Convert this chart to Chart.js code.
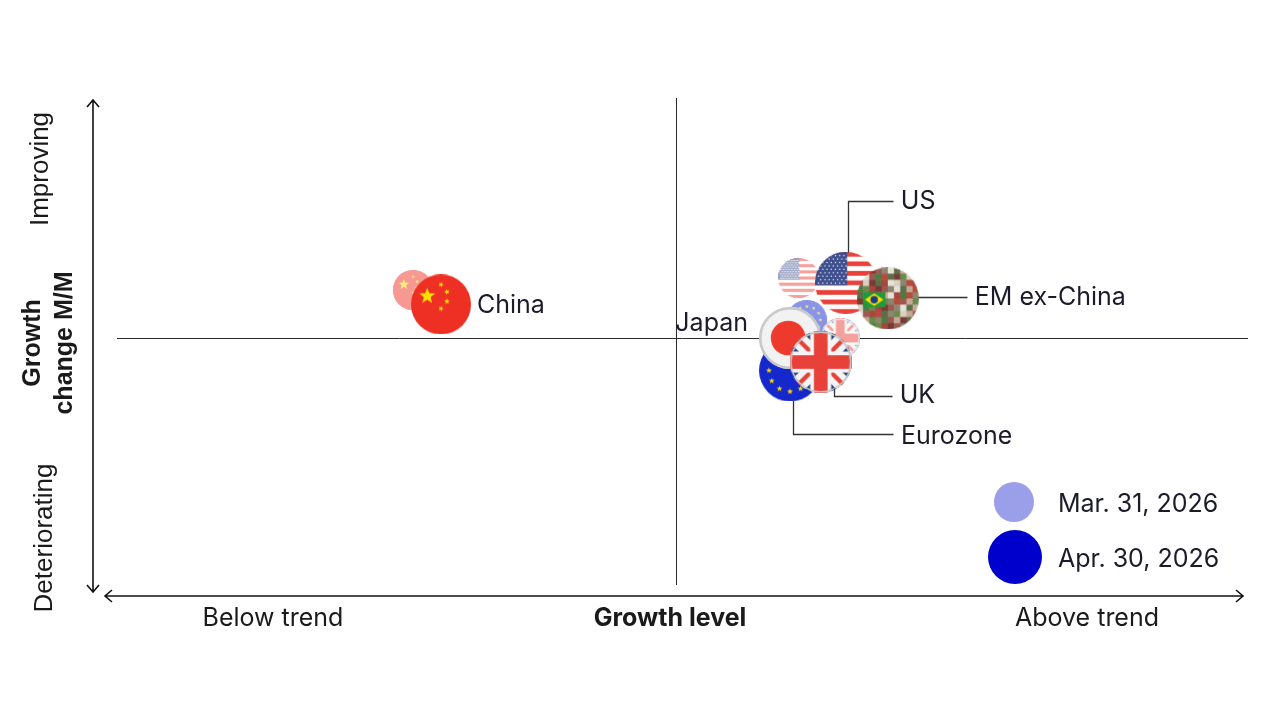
<!DOCTYPE html>
<html>
<head>
<meta charset="utf-8">
<script src="https://cdn.jsdelivr.net/npm/chart.js@4.4.0/dist/chart.umd.min.js"></script>
<style>
  html, body { margin: 0; background: #fff; }
  #wrap { width: 1280px; height: 720px; }
</style>
</head>
<body>
<div id="wrap"><canvas id="myChart"></canvas></div>
<script>
// draw order matters: later regions sit on top
const regions = ["China", "Eurozone", "Japan", "UK", "US", "EM ex-China"];
const levelMar = [-4.7, 2.35, 2.0, 2.95, 2.2, 3.75];
const changeMar = [2.0, 0.75, 0.05, 0.0, 2.5, 1.6];
const levelApr = [-4.2, 2.05, 2.05, 2.6, 3.05, 3.8];
const changeApr = [1.4, -1.35, 0.0, -1.0, 2.3, 1.65];
const dateLabels = ["Mar. 31, 2026", "Apr. 30, 2026"];

const FONT = "Inter, 'Noto Sans', sans-serif";

function star(ctx, cx, cy, r, rot) {
  ctx.beginPath();
  for (let i = 0; i < 10; i++) {
    const a = -Math.PI / 2 + (rot || 0) + i * Math.PI / 5;
    const rr = i % 2 === 0 ? r : r * 0.42;
    ctx.lineTo(cx + rr * Math.cos(a), cy + rr * Math.sin(a));
  }
  ctx.closePath();
  ctx.fill();
}

const flags = {
  "China": (ctx, s) => {
    ctx.fillStyle = "#ee3024";
    ctx.fillRect(0, 0, s, s);
    ctx.fillStyle = "#ffde00";
    star(ctx, s * 0.27, s * 0.36, s * 0.14);
    star(ctx, s * 0.50, s * 0.17, s * 0.05, 0.4);
    star(ctx, s * 0.60, s * 0.29, s * 0.05, 0.9);
    star(ctx, s * 0.60, s * 0.45, s * 0.05, 0);
    star(ctx, s * 0.50, s * 0.57, s * 0.05, 0.4);
  },
  "US": (ctx, s) => {
    const h = s / 13;
    for (let i = 0; i < 13; i++) {
      ctx.fillStyle = i % 2 === 0 ? "#e8413a" : "#ffffff";
      ctx.fillRect(0, i * h, s, h + 0.5);
    }
    ctx.fillStyle = "#3e4f8f";
    ctx.fillRect(0, 0, s * 0.52, h * 7);
    ctx.fillStyle = "#ffffff";
    for (let r = 0; r < 9; r++) {
      for (let c = 0; c < 7; c++) {
        const x = s * 0.05 + c * s * 0.068 + (r % 2 ? s * 0.034 : 0);
        const y = s * 0.05 + r * h * 0.72;
        ctx.fillRect(x, y, 1.2, 1.2);
      }
    }
  },
  "EM ex-China": (ctx, s) => {
    const cols = ["#6a8a4a", "#b84a3c", "#e6e2d6", "#7a3a34", "#4f7a44", "#c9a89a", "#8a8670", "#a8463e", "#d8d0c0", "#5d6f4a", "#9a5a50"];
    const n = 10, c = s / n;
    for (let i = 0; i < n; i++) {
      for (let j = 0; j < n; j++) {
        ctx.fillStyle = cols[(i * 7 + j * 5 + (i * j) % 3) % cols.length];
        ctx.fillRect(i * c, j * c, c + 0.5, c + 0.5);
      }
    }
    // Brazil inset
    ctx.fillStyle = "#1f9a3a";
    ctx.fillRect(s * 0.10, s * 0.40, s * 0.36, s * 0.24);
    ctx.fillStyle = "#fedf00";
    ctx.beginPath();
    ctx.moveTo(s * 0.13, s * 0.52); ctx.lineTo(s * 0.28, s * 0.42);
    ctx.lineTo(s * 0.43, s * 0.52); ctx.lineTo(s * 0.28, s * 0.62);
    ctx.fill();
    ctx.fillStyle = "#1b3f8f";
    ctx.beginPath(); ctx.arc(s * 0.28, s * 0.52, s * 0.06, 0, Math.PI * 2); ctx.fill();
  },
  "Eurozone": (ctx, s) => {
    ctx.fillStyle = "#1428cc";
    ctx.fillRect(0, 0, s, s);
    ctx.fillStyle = "#ffd800";
    for (let i = 0; i < 12; i++) {
      const a = i * Math.PI / 6;
      star(ctx, s / 2 + s * 0.34 * Math.cos(a), s / 2 + s * 0.34 * Math.sin(a), s * 0.05);
    }
  },
  "Japan": (ctx, s) => {
    ctx.fillStyle = "#f2f2f2";
    ctx.fillRect(0, 0, s, s);
    ctx.fillStyle = "#ee3a2c";
    ctx.beginPath(); ctx.arc(s * 0.47, s * 0.5, s * 0.28, 0, Math.PI * 2); ctx.fill();
  },
  "UK": (ctx, s) => {
    ctx.fillStyle = "#2a3f80";
    ctx.fillRect(0, 0, s, s);
    ctx.lineCap = "butt";
    ctx.strokeStyle = "#f4f4f4";
    ctx.lineWidth = s * 0.26;
    ctx.beginPath(); ctx.moveTo(0, 0); ctx.lineTo(s, s); ctx.moveTo(s, 0); ctx.lineTo(0, s); ctx.stroke();
    ctx.strokeStyle = "#e8413a";
    ctx.lineWidth = s * 0.07;
    ctx.beginPath(); ctx.moveTo(0, 0); ctx.lineTo(s, s); ctx.moveTo(s, 0); ctx.lineTo(0, s); ctx.stroke();
    ctx.fillStyle = "#f4f4f4";
    ctx.fillRect(s * 0.33, 0, s * 0.34, s);
    ctx.fillRect(0, s * 0.33, s, s * 0.34);
    ctx.fillStyle = "#e8413a";
    ctx.fillRect(s * 0.39, 0, s * 0.22, s);
    ctx.fillRect(0, s * 0.39, s, s * 0.22);
  }
};

function flagIcon(name, r, faded) {
  const s = r * 2;
  const cv = document.createElement("canvas");
  cv.width = s; cv.height = s;
  const ctx = cv.getContext("2d");
  ctx.save();
  ctx.beginPath(); ctx.arc(r, r, r, 0, Math.PI * 2); ctx.clip();
  flags[name](ctx, s);
  if (faded) {
    ctx.fillStyle = "rgba(255,255,255,0.5)";
    ctx.fillRect(0, 0, s, s);
  }
  ctx.restore();
  if (name === "Japan" || name === "UK") {
    ctx.strokeStyle = faded ? "#e4e4e4" : "#c8c8c8";
    ctx.lineWidth = name === "Japan" ? 2.5 : 1.5;
    ctx.beginPath(); ctx.arc(r, r, r - 1.2, 0, Math.PI * 2); ctx.stroke();
  }
  return cv;
}

const ptsMar = regions.map((n, i) => ({ x: levelMar[i], y: changeMar[i] }));
const ptsApr = regions.map((n, i) => ({ x: levelApr[i], y: changeApr[i] }));
const iconsMar = regions.map(n => flagIcon(n, 20, true));
const iconsApr = regions.map(n => flagIcon(n, n === "China" ? 30 : 31, false));

// leader lines & labels, offsets from the Apr point in pixels
const callouts = {
  "China": { path: [], tx: 36, ty: 1, align: "left" },
  "US": { path: [[2, -31], [2, -82], [47, -82]], tx: 55, ty: -81, align: "left" },
  "EM ex-China": { path: [[30, -1], [79, -1]], tx: 87, ty: -1, align: "left" },
  "UK": { path: [[13, 26], [13, 34], [71, 34]], tx: 79, ty: 33, align: "left" },
  "Eurozone": { path: [[3, 30], [3, 64], [103, 64]], tx: 111, ty: 66, align: "left" },
  "Japan": { path: [], tx: -42, ty: -15, align: "right" }
};

const quadrantPlugin = {
  id: "quadrant",
  beforeDatasetsDraw(chart) {
    const { ctx, chartArea: a, scales: { x, y } } = chart;
    const x0 = x.getPixelForValue(0), y0 = y.getPixelForValue(0);
    ctx.save();
    ctx.strokeStyle = "#2b2b2b";
    ctx.lineWidth = 1;
    ctx.beginPath();
    ctx.moveTo(Math.round(x0) + 0.5, a.top);
    ctx.lineTo(Math.round(x0) + 0.5, a.bottom);
    ctx.moveTo(a.left, Math.round(y0) + 0.5);
    ctx.lineTo(a.right, Math.round(y0) + 0.5);
    ctx.stroke();

    // outer double arrows
    ctx.strokeStyle = "#111";
    ctx.lineWidth = 1.6;
    const ax = 93, ay = 596;
    ctx.beginPath();
    ctx.moveTo(ax, 100); ctx.lineTo(ax, 592);
    ctx.moveTo(ax - 6, 107); ctx.lineTo(ax, 100); ctx.lineTo(ax + 6, 107);
    ctx.moveTo(ax - 6, 585); ctx.lineTo(ax, 592); ctx.lineTo(ax + 6, 585);
    ctx.moveTo(105, ay); ctx.lineTo(1243, ay);
    ctx.moveTo(112, ay - 6); ctx.lineTo(105, ay); ctx.lineTo(112, ay + 6);
    ctx.moveTo(1236, ay - 6); ctx.lineTo(1243, ay); ctx.lineTo(1236, ay + 6);
    ctx.stroke();

    // axis texts
    ctx.fillStyle = "#1a1a1a";
    ctx.textBaseline = "middle";
    ctx.textAlign = "center";
    ctx.font = "25px " + FONT;
    ctx.fillText("Below trend", 273, 618);
    ctx.fillText("Above trend", 1087, 618);
    ctx.font = "bold 25px " + FONT;
    ctx.fillText("Growth level", 670, 618);

    ctx.save();
    ctx.translate(41, 169); ctx.rotate(-Math.PI / 2);
    ctx.font = "26px 'Liberation Sans', Arial, sans-serif";
    ctx.fillText("Improving", 0, 0);
    ctx.restore();
    ctx.save();
    ctx.translate(45, 538); ctx.rotate(-Math.PI / 2);
    ctx.font = "26px 'Liberation Sans', Arial, sans-serif";
    ctx.fillText("Deteriorating", 0, 0);
    ctx.restore();
    ctx.save();
    ctx.translate(49, 343); ctx.rotate(-Math.PI / 2);
    ctx.font = "bold 25px 'Liberation Sans', Arial, sans-serif";
    ctx.fillText("Growth", 0, -16);
    ctx.fillText("change M/M", 0, 16);
    ctx.restore();
    ctx.restore();
  },
  afterDatasetsDraw(chart) {
    const { ctx } = chart;
    const meta = chart.getDatasetMeta(1);
    ctx.save();
    ctx.strokeStyle = "#333";
    ctx.lineWidth = 1.3;
    ctx.fillStyle = "#1b1b2a";
    ctx.font = "25px " + FONT;
    ctx.textBaseline = "middle";
    regions.forEach((name, i) => {
      const p = meta.data[i];
      const c = callouts[name];
      if (c.path.length) {
        ctx.beginPath();
        c.path.forEach(([dx, dy], k) => {
          const px = Math.round(p.x + dx) + 0.5, py = Math.round(p.y + dy) + 0.5;
          k ? ctx.lineTo(px, py) : ctx.moveTo(px, py);
        });
        ctx.stroke();
      }
      ctx.textAlign = c.align;
      ctx.fillText(name, p.x + c.tx, p.y + c.ty);
    });

    // legend
    const lg = [[1014, 502, 20, "#9b9ee8"], [1015, 557, 27, "#0000cc"]];
    lg.forEach(([cx, cy, r, col], k) => {
      ctx.fillStyle = col;
      ctx.beginPath(); ctx.arc(cx, cy, r, 0, Math.PI * 2); ctx.fill();
      ctx.fillStyle = "#1b1b2a";
      ctx.textAlign = "left";
      ctx.fillText(dateLabels[k], 1058, cy + 2);
    });
    ctx.restore();
  }
};

const data = {
  datasets: [
    {
      label: dateLabels[0],
      data: ptsMar,
      pointStyle: iconsMar,
      pointRadius: 20,
      order: 2,
    },
    {
      label: dateLabels[1],
      data: ptsApr,
      pointStyle: iconsApr,
      pointRadius: 31,
      order: 1,
    },
  ],
};

const config = {
  type: "scatter",
  data: data,
  options: {
    responsive: true,
    maintainAspectRatio: false,
    animation: false,
    layout: {
      padding: { left: 117, top: 98, right: 31, bottom: 135 },
    },
    scales: {
      x: { display: false, min: -10, max: 10.25 },
      y: { display: false, min: -10.29, max: 10 },
    },
    plugins: {
      legend: { display: false },
      tooltip: { enabled: false },
    },
  },
  plugins: [quadrantPlugin],
};

const myChart = new Chart(document.getElementById("myChart"), config);
</script>
</body>
</html>
